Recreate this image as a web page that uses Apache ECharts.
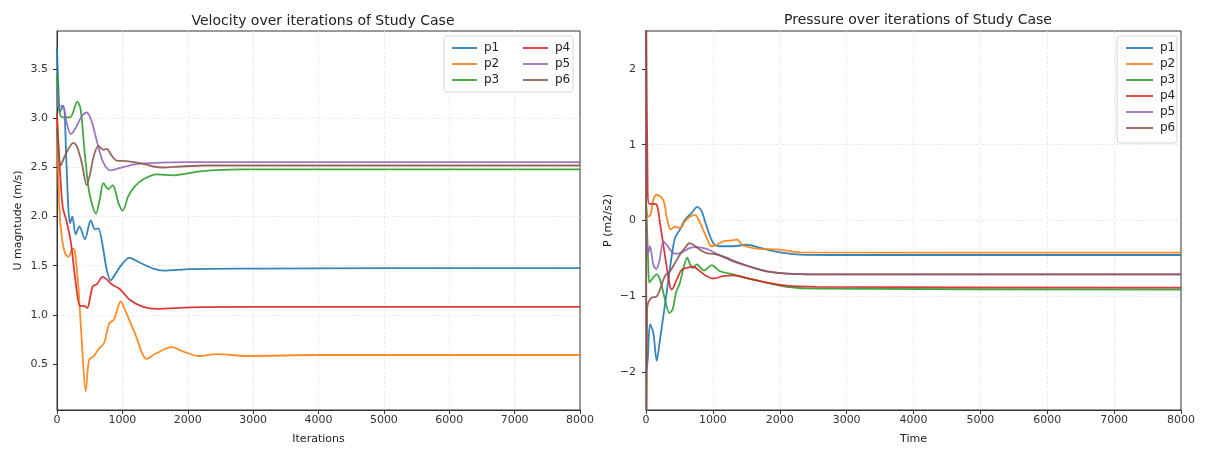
<!DOCTYPE html>
<html>
<head>
<meta charset="utf-8">
<script src="https://cdn.jsdelivr.net/npm/echarts@6/dist/echarts.min.js"></script>
<style>
  html, body { margin: 0; padding: 0; background: #fff; }
  #chart { width: 1213px; height: 450px; }
</style>
</head>
<body>
<div id="chart"></div>
<script>
// ---- Velocity (left panel): iteration samples and U magnitude per probe ----
const velIterP1 = [0, 20, 46, 97, 148, 173, 199, 234, 286, 342, 428, 515, 581, 632, 709, 760, 821, 887, 989, 1106, 1270, 1474, 1627, 2035, 3000, 5000, 8000];
const velP1 = [3.72, 3.35, 3.07, 3.13, 2.48, 2.09, 1.93, 2.0, 1.82, 1.90, 1.77, 1.96, 1.87, 1.88, 1.66, 1.46, 1.35, 1.41, 1.51, 1.58, 1.53, 1.47, 1.45, 1.465, 1.47, 1.475, 1.475];

const velIterP2 = [0, 36, 72, 122, 173, 189, 240, 270, 326, 378, 439, 490, 556, 648, 719, 801, 872, 974, 1040, 1193, 1372, 1499, 1754, 1932, 2162, 2443, 2902, 4000, 8000];
const velP2 = [3.0, 2.1, 1.80, 1.63, 1.59, 1.60, 1.67, 1.66, 1.29, 0.745, 0.22, 0.54, 0.575, 0.66, 0.71, 0.915, 0.95, 1.135, 1.05, 0.81, 0.55, 0.60, 0.67, 0.625, 0.58, 0.60, 0.58, 0.59, 0.59];

const velIterP3 = [0, 30, 60, 97, 199, 311, 362, 428, 495, 597, 658, 709, 786, 852, 939, 1005, 1092, 1193, 1321, 1525, 1780, 2188, 2800, 4000, 8000];
const velP3 = [3.45, 3.1, 3.02, 3.01, 3.01, 3.17, 3.09, 2.62, 2.24, 2.03, 2.19, 2.34, 2.28, 2.32, 2.14, 2.06, 2.21, 2.31, 2.38, 2.43, 2.42, 2.46, 2.48, 2.48, 2.48];

const velIterP4 = [0, 36, 87, 148, 214, 275, 352, 413, 464, 505, 546, 607, 699, 760, 837, 964, 1117, 1321, 1525, 2035, 3000, 8000];
const velP4 = [3.05, 2.58, 2.1, 1.95, 1.73, 1.39, 1.09, 1.09, 1.07, 1.17, 1.29, 1.31, 1.385, 1.36, 1.31, 1.26, 1.15, 1.08, 1.06, 1.075, 1.08, 1.08];

const velIterP5 = [0, 20, 87, 148, 209, 275, 378, 454, 530, 617, 709, 821, 939, 1168, 1423, 2000, 8000];
const velP5 = [3.3, 3.11, 3.13, 2.96, 2.84, 2.89, 3.02, 3.06, 2.97, 2.75, 2.55, 2.47, 2.49, 2.53, 2.545, 2.555, 2.555];

const velIterP6 = [0, 20, 56, 122, 250, 301, 378, 454, 505, 556, 632, 709, 760, 837, 913, 1066, 1270, 1474, 1627, 1882, 2290, 8000];
const velP6 = [2.9, 2.7, 2.52, 2.62, 2.75, 2.72, 2.55, 2.32, 2.43, 2.60, 2.72, 2.68, 2.69, 2.62, 2.57, 2.565, 2.545, 2.51, 2.50, 2.51, 2.52, 2.52];

// ---- Pressure (right panel): time samples and P per probe ----
const preTimeP1 = [0, 25, 60, 109, 160, 209, 309, 384, 434, 508, 583, 683, 767, 833, 907, 1007, 1106, 1305, 1505, 1704, 2003, 2302, 2800, 8000];
const preP1 = [-2.0, -1.85, -1.37, -1.48, -1.85, -1.57, -0.95, -0.47, -0.23, -0.12, 0.01, 0.10, 0.18, 0.12, -0.08, -0.30, -0.34, -0.34, -0.32, -0.36, -0.42, -0.45, -0.455, -0.455];

const preTimeP2 = [0, 34, 70, 109, 160, 259, 309, 369, 434, 508, 583, 658, 733, 807, 907, 982, 1057, 1156, 1305, 1355, 1455, 1654, 2003, 2302, 8000];
const preP2 = [0.2, 0.05, 0.075, 0.27, 0.34, 0.27, 0.05, -0.12, -0.08, -0.10, -0.01, 0.05, 0.075, -0.03, -0.23, -0.34, -0.32, -0.275, -0.26, -0.25, -0.33, -0.37, -0.385, -0.42, -0.425];

const preTimeP3 = [0, 34, 49, 85, 160, 209, 284, 348, 399, 449, 508, 568, 618, 658, 707, 758, 867, 982, 1106, 1305, 1505, 1804, 2103, 2552, 8000];
const preP3 = [0.3, -0.58, -0.82, -0.78, -0.71, -0.78, -1.04, -1.22, -1.17, -0.95, -0.82, -0.60, -0.49, -0.58, -0.625, -0.58, -0.66, -0.59, -0.67, -0.71, -0.76, -0.82, -0.875, -0.90, -0.91];

const preTimeP4 = [0, 25, 49, 109, 160, 209, 284, 359, 384, 459, 533, 608, 707, 807, 907, 1007, 1156, 1305, 1505, 1804, 2103, 2552, 8000];
const preP4 = [3.2, 0.38, 0.22, 0.22, 0.21, -0.03, -0.47, -0.87, -0.91, -0.78, -0.65, -0.625, -0.61, -0.67, -0.735, -0.765, -0.735, -0.725, -0.76, -0.82, -0.86, -0.875, -0.885];

const preTimeP5 = [0, 10, 34, 60, 109, 150, 199, 259, 309, 384, 459, 558, 658, 758, 907, 1057, 1305, 1555, 1804, 2103, 2552, 8000];
const preP5 = [0.2, -0.21, -0.43, -0.34, -0.58, -0.64, -0.54, -0.275, -0.32, -0.41, -0.44, -0.41, -0.36, -0.35, -0.375, -0.44, -0.54, -0.61, -0.67, -0.70, -0.71, -0.71];

const preTimeP6 = [0, 8, 16, 34, 85, 160, 209, 284, 359, 434, 508, 583, 648, 707, 807, 907, 1057, 1206, 1305, 1555, 1804, 2103, 2552, 8000];
const preP6 = [4.0, -4.0, -1.2, -1.08, -1.02, -1.0, -0.91, -0.73, -0.67, -0.56, -0.45, -0.36, -0.30, -0.32, -0.385, -0.43, -0.45, -0.49, -0.53, -0.61, -0.67, -0.70, -0.71, -0.71];

// ---- Labels and tick values ----
const probeNames = ['p1', 'p2', 'p3', 'p4', 'p5', 'p6'];
const probeColors = ['#1f77b4', '#ff7f0e', '#2ca02c', '#d62728', '#9467bd', '#8c564b'];
const velTicks = [0.5, 1.0, 1.5, 2.0, 2.5, 3.0, 3.5];
const preTicks = [-2, -1, 0, 1, 2];

const velSeriesData = [[velIterP1, velP1], [velIterP2, velP2], [velIterP3, velP3], [velIterP4, velP4], [velIterP5, velP5], [velIterP6, velP6]];
const preSeriesData = [[preTimeP1, preP1], [preTimeP2, preP2], [preTimeP3, preP3], [preTimeP4, preP4], [preTimeP5, preP5], [preTimeP6, preP6]];

const zip = (xs, ys) => xs.map((x, i) => [x, ys[i]]);
const FONT = 'DejaVu Sans';
const minus = s => String(s).replace('-', '\u2212');

const gridLine = { show: true, showMinLine: false, showMaxLine: false, lineStyle: { color: '#e6e6e6', width: 0.8, type: [3, 2] } };
const axisLine = { show: true, onZero: false, lineStyle: { color: '#333', width: 1 } };
const axisTickStyle = { show: true, inside: false, length: 4, lineStyle: { color: '#333' } };
const labelStyle = { color: '#333', fontFamily: FONT, fontSize: 11 };

function xAxisFor(gridIndex, name) {
  return {
    type: 'value', gridIndex, min: 0, max: 8000, interval: 1000,
    name, nameLocation: 'middle', nameGap: 24,
    nameTextStyle: { color: '#222', fontFamily: FONT, fontSize: 11 },
    axisLine, axisTick: axisTickStyle,
    axisLabel: Object.assign({ margin: 5, formatter: v => String(v) }, labelStyle),
    splitLine: gridLine
  };
}

function makeSeries(list, axisIndex) {
  return list.map((pair, i) => ({
    type: 'line',
    name: probeNames[i],
    xAxisIndex: axisIndex, yAxisIndex: axisIndex,
    data: zip(pair[0], pair[1]),
    showSymbol: false, symbol: 'none',
    smooth: 0.3,
    clip: true,
    color: probeColors[i],
    lineStyle: { width: 1.8, color: probeColors[i], opacity: 0.9 },
    emphasis: { disabled: true },
    z: 2 + i * 0.01
  }));
}

const legendCommon = {
  orient: 'vertical', itemWidth: 25, itemHeight: 2, itemGap: 4, icon: 'rect',
  selectedMode: false,
  textStyle: { color: '#222', fontFamily: FONT, fontSize: 12, padding: [0, 0, 0, 2] },
  itemStyle: { opacity: 0.85 },
  z: 10
};

const titleStyle = { color: '#222', fontFamily: FONT, fontSize: 14, fontWeight: 'normal' };

const option = {
  animation: false,
  backgroundColor: '#fff',
  title: [
    { text: 'Velocity over iterations of Study Case', left: 318, top: 9, textAlign: 'center', textStyle: titleStyle },
    { text: 'Pressure over iterations of Study Case', left: 913, top: 8, textAlign: 'center', textStyle: titleStyle }
  ],
  grid: [
    { left: 57, right: 633, top: 31, bottom: 40, show: true, borderColor: '#333', borderWidth: 1, containLabel: false },
    { left: 646, right: 32, top: 31, bottom: 40, show: true, borderColor: '#333', borderWidth: 1, containLabel: false }
  ],
  xAxis: [xAxisFor(0, 'Iterations'), xAxisFor(1, 'Time')],
  yAxis: [
    {
      type: 'value', gridIndex: 0, min: 0.03, max: 3.89,
      name: 'U magntude (m/s)', nameLocation: 'middle', nameGap: 33,
      nameTextStyle: { color: '#222', fontFamily: FONT, fontSize: 11 },
      axisLine, axisTick: Object.assign({ customValues: velTicks }, axisTickStyle),
      axisLabel: Object.assign({ customValues: velTicks, margin: 9, formatter: v => v.toFixed(1) }, labelStyle),
      splitLine: gridLine
    },
    {
      type: 'value', gridIndex: 1, min: -2.5, max: 2.5,
      name: 'P (m2/s2)', nameLocation: 'middle', nameGap: 32,
      nameTextStyle: { color: '#222', fontFamily: FONT, fontSize: 11 },
      axisLine, axisTick: Object.assign({ customValues: preTicks }, axisTickStyle),
      axisLabel: Object.assign({ customValues: preTicks, margin: 10, formatter: v => minus(v) }, labelStyle),
      splitLine: gridLine
    }
  ],
  legend: [
    Object.assign({}, legendCommon, { left: 447, top: 37, data: ['p1', 'p2', 'p3'] }),
    Object.assign({}, legendCommon, { left: 518, top: 37, data: ['p4', 'p5', 'p6'] }),
    Object.assign({}, legendCommon, { left: 1121, top: 37, itemWidth: 27, data: probeNames })
  ],
  graphic: [
    { type: 'rect', z: 9, shape: { x: 444, y: 36, width: 129, height: 56, r: 3 },
      style: { fill: 'rgba(255,255,255,0.85)', stroke: '#d4d4d4', lineWidth: 1 } },
    { type: 'rect', z: 9, shape: { x: 1117, y: 36, width: 60, height: 107, r: 3 },
      style: { fill: 'rgba(255,255,255,0.85)', stroke: '#d4d4d4', lineWidth: 1 } }
  ],
  series: makeSeries(velSeriesData, 0).concat(makeSeries(preSeriesData, 1))
};

const chart = echarts.init(document.getElementById('chart'), null, { renderer: 'canvas' });
chart.setOption(option);
</script>
</body>
</html>
